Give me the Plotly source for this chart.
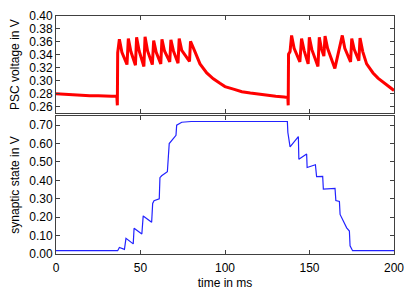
import plotly.graph_objects as go

# ---- data (time in ms, volts) ----
psc_time = [0, 5, 10, 15, 20, 25, 30, 33, 36.0, 36.3, 36.5, 37.5,
            39.0, 42.0, 42.8, 44.3, 47.0, 47.7, 49.2, 52.0, 52.7, 54.2, 57.0,
            57.8, 59.3, 62.0, 62.7, 64.2, 67.3, 68.0, 69.5, 72.2, 72.9, 74.4,
            79.0, 79.6, 82.2, 85.2, 89.2, 93.1, 97.0, 100, 105, 110, 115, 120,
            125, 130, 135, 137.2, 137.4, 137.6, 138.5, 139.4, 140.9, 144.3,
            145.3, 146.8, 149.2, 149.9, 151.4, 155.0, 155.8, 157.0, 158.5,
            159.2, 160.7, 165.0, 169.4, 170.9, 174.3, 175.0, 176.5, 179.2,
            179.9, 181.5, 183.8, 187.6, 190.5, 193.5, 197.0, 200]
psc_volt = [0.280, 0.279, 0.279, 0.278, 0.277, 0.277, 0.276, 0.276, 0.276, 0.262, 0.343, 0.364,
            0.344, 0.325, 0.365, 0.345, 0.324, 0.367, 0.346, 0.322, 0.368, 0.346, 0.325,
            0.362, 0.344, 0.326, 0.364, 0.346, 0.329, 0.363, 0.346, 0.327, 0.365, 0.347,
            0.330, 0.361, 0.345, 0.326, 0.312, 0.303, 0.296, 0.291, 0.287, 0.283, 0.281, 0.279,
            0.277, 0.276, 0.275, 0.274, 0.262, 0.341, 0.345, 0.370, 0.350, 0.329,
            0.365, 0.347, 0.326, 0.367, 0.348, 0.322, 0.367, 0.350, 0.338,
            0.369, 0.350, 0.319, 0.370, 0.350, 0.329, 0.365, 0.348, 0.331,
            0.366, 0.345, 0.326, 0.312, 0.304, 0.298, 0.290, 0.285]

syn_time = [0, 10, 20, 30, 36.5, 37.5, 40.5, 41.4, 45.7, 46.2, 50.8, 51.6, 56.6,
            57.2, 58.0, 61.1, 61.5, 62.5, 65.9, 67.0, 69.4, 71.0, 71.4, 74.4, 80,
            100, 120, 136.9, 137.2, 138.5, 143.4, 143.7, 148.3, 148.6, 153.5,
            154.2, 157.8, 158.2, 165.1, 165.6, 167.7, 168.1, 172.0, 173.6, 174.0,
            175.5, 185, 200]
syn_state = [0.018, 0.018, 0.018, 0.018, 0.018, 0.035, 0.025, 0.085, 0.055, 0.140, 0.109, 0.207, 0.172,
             0.275, 0.290, 0.300, 0.415, 0.425, 0.447, 0.600, 0.628, 0.645, 0.700, 0.716, 0.720,
             0.720, 0.720, 0.720, 0.660, 0.582, 0.638, 0.515, 0.543, 0.470, 0.485,
             0.420, 0.422, 0.352, 0.357, 0.290, 0.285, 0.215, 0.142, 0.125, 0.045,
             0.018, 0.018, 0.018]

x_ticks = [0, 50, 100, 150, 200]
psc_ticks = [0.26, 0.28, 0.30, 0.32, 0.34, 0.36, 0.38, 0.40]
syn_ticks = [0.0, 0.1, 0.2, 0.3, 0.4, 0.5, 0.6, 0.7]

FONT = "Liberation Sans, Arial, sans-serif"
FS = 12
AX = dict(showline=True, linecolor="#404040", linewidth=1, mirror="allticks",
          ticks="inside", ticklen=4, tickcolor="#404040", tickwidth=1,
          showgrid=False, zeroline=False, automargin=False, ticklabeloverflow="allow",
          tickfont=dict(family=FONT, size=FS, color="black"))

fig = go.Figure()
fig.add_trace(go.Scatter(x=psc_time, y=psc_volt, mode="lines",
                         line=dict(color="#ff0000", width=3), xaxis="x", yaxis="y",
                         showlegend=False))
fig.add_trace(go.Scatter(x=syn_time, y=syn_state, mode="lines",
                         line=dict(color="#2222ff", width=1.2), xaxis="x2", yaxis="y2",
                         showlegend=False))

# the page body adds an 8px offset; size the figure so the plot boxes land near the reference's
fig.update_layout(
    width=407, height=283,
    margin=dict(l=48, r=21, t=8, b=37),
    paper_bgcolor="white", plot_bgcolor="white",
    font=dict(family=FONT, size=FS, color="black"),
    xaxis=dict(AX, domain=[0, 1], range=[0, 200], tickvals=x_ticks, showticklabels=False,
               anchor="y"),
    yaxis=dict(AX, domain=[0.592, 1], range=[0.25, 0.40], tickvals=psc_ticks,
               tickformat=".2f", anchor="x",
               title=dict(text="PSC voltage in V", font=dict(family=FONT, size=FS), standoff=15)),
    xaxis2=dict(AX, domain=[0, 1], range=[0, 200], tickvals=x_ticks, anchor="y2",
                ticklabelstandoff=3,
                title=dict(text="time in ms", font=dict(family=FONT, size=FS), standoff=4)),
    yaxis2=dict(AX, domain=[0, 0.580], range=[0, 0.75], tickvals=syn_ticks,
                tickformat=".2f", anchor="x2",
                title=dict(text="synaptic state in V", font=dict(family=FONT, size=FS), standoff=15)),
)

fig.write_html("out.html")
